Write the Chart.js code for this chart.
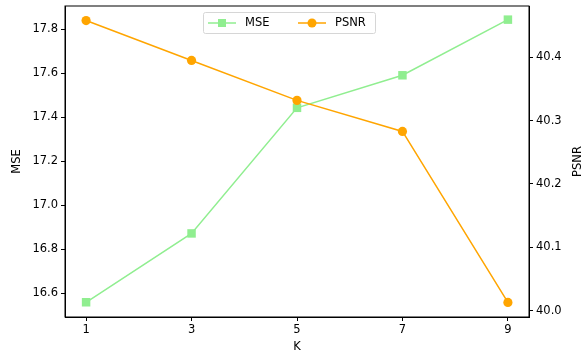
<!DOCTYPE html>
<html lang="en">
<head>
    <meta charset="UTF-8">
    <style>
        html, body { margin: 0; padding: 0; background: #fff; overflow: hidden; }
    </style>
    <title>MSE / PSNR vs K</title>
</head>
<body>
    <canvas id="myChart" width="584" height="351"></canvas>
    <script src="https://cdn.jsdelivr.net/npm/chart.js"></script>
    <script>
        const kValues = [1, 3, 5, 7, 9];
        const mseValues = [16.558, 16.871, 17.442, 17.590, 17.843];
        const psnrValues = [40.458, 40.395, 40.332, 40.283, 40.013];
        const xTicks = [1, 3, 5, 7, 9];
        const mseTicks = [16.6, 16.8, 17.0, 17.2, 17.4, 17.6, 17.8];
        const psnrTicks = [40.0, 40.1, 40.2, 40.3, 40.4];

        const FONT = 'DejaVu Sans';
        const SIZE = 11.5;

        // frame round the plot, legend box and the PSNR title (matplotlib reads it bottom-up)
        const framePlugin = {
            id: 'frame',
            afterDraw(chart) {
                const { ctx, chartArea: a } = chart;
                ctx.save();
                ctx.strokeStyle = '#000';
                ctx.lineWidth = 1;
                ctx.strokeRect(a.left, a.top, a.right - a.left, a.bottom - a.top);

                // legend
                const x0 = 203.5, y0 = 12.5, w = 172, h = 21;
                ctx.fillStyle = 'rgba(255,255,255,0.8)';
                ctx.strokeStyle = '#d6d6d6';
                ctx.beginPath();
                ctx.roundRect(x0, y0, w, h, 2);
                ctx.fill();
                ctx.stroke();

                const cy = y0 + h / 2;
                ctx.lineWidth = 1.5;
                ctx.strokeStyle = 'lightgreen';
                ctx.beginPath(); ctx.moveTo(208, cy); ctx.lineTo(236, cy); ctx.stroke();
                ctx.fillStyle = 'lightgreen';
                ctx.fillRect(222 - 4, cy - 4, 8, 8);

                ctx.strokeStyle = 'orange';
                ctx.beginPath(); ctx.moveTo(298, cy); ctx.lineTo(326, cy); ctx.stroke();
                ctx.fillStyle = 'orange';
                ctx.beginPath(); ctx.arc(312, cy, 4.5, 0, Math.PI * 2); ctx.fill();

                ctx.fillStyle = '#000';
                ctx.font = SIZE + 'px "' + FONT + '"';
                ctx.textBaseline = 'middle';
                ctx.fillText('MSE', 245, cy + 0.5);
                ctx.fillText('PSNR', 335, cy + 0.5);

                // right axis title
                ctx.translate(578, (a.top + a.bottom) / 2);
                ctx.rotate(-Math.PI / 2);
                ctx.textAlign = 'center';
                ctx.fillText('PSNR', 0, 0);
                ctx.restore();
            }
        };

        // no extra room for half tick labels, the plot box is fixed
        const noPad = (s) => { s.paddingTop = 0; s.paddingBottom = 0; };

        const ctx = document.getElementById('myChart');

        new Chart(ctx, {
            type: 'line',
            data: {
                datasets: [
                    {
                        label: 'MSE',
                        data: kValues.map((k, i) => ({ x: k, y: mseValues[i] })),
                        borderColor: 'lightgreen',
                        backgroundColor: 'lightgreen',
                        borderWidth: 1.5,
                        pointStyle: 'rect',
                        pointRadius: 6,
                        pointBorderWidth: 0,
                        yAxisID: 'y',
                        order: 2
                    },
                    {
                        label: 'PSNR',
                        data: kValues.map((k, i) => ({ x: k, y: psnrValues[i] })),
                        borderColor: 'orange',
                        backgroundColor: 'orange',
                        borderWidth: 1.5,
                        pointStyle: 'circle',
                        pointRadius: 4.6,
                        pointBorderWidth: 0,
                        yAxisID: 'y1',
                        order: 1
                    }
                ]
            },
            options: {
                responsive: false,
                animation: false,
                layout: { padding: { top: 6, left: 0, right: 0, bottom: 0 } },
                plugins: {
                    legend: { display: false },
                    tooltip: { enabled: false }
                },
                scales: {
                    x: {
                        type: 'linear',
                        min: 0.6,
                        max: 9.4,
                        afterBuildTicks: (s) => { s.ticks = xTicks.map(v => ({ value: v })); },
                        afterFit: (s) => { s.height = 34; s.paddingLeft = 0; s.paddingRight = 0; },
                        grid: { drawOnChartArea: false, drawTicks: true, tickLength: 4, color: '#000' },
                        border: { display: true, color: '#000' },
                        ticks: { color: '#000', padding: 2, font: { family: FONT, size: SIZE } },
                        title: { display: true, text: 'K', color: '#000', padding: { top: 0, bottom: -3 }, font: { family: FONT, size: SIZE } }
                    },
                    y: {
                        position: 'left',
                        min: 16.491,
                        max: 17.905,
                        afterBuildTicks: (s) => { s.ticks = mseTicks.map(v => ({ value: v })); },
                        afterFit: (s) => { s.width = 65; noPad(s); },
                        grid: { drawOnChartArea: false, drawTicks: true, tickLength: 4, color: '#000' },
                        border: { display: true, color: '#000' },
                        ticks: { color: '#000', padding: 3, font: { family: FONT, size: SIZE }, callback: (v) => v.toFixed(1) },
                        title: { display: true, text: 'MSE', color: '#000', padding: { top: 10, bottom: 0 }, font: { family: FONT, size: SIZE } }
                    },
                    y1: {
                        position: 'right',
                        min: 39.990,
                        max: 40.481,
                        afterBuildTicks: (s) => { s.ticks = psnrTicks.map(v => ({ value: v })); },
                        afterFit: (s) => { s.width = 55; noPad(s); },
                        grid: { drawOnChartArea: false, drawTicks: true, tickLength: 4, color: '#000' },
                        border: { display: true, color: '#000' },
                        ticks: { color: '#000', padding: 3, font: { family: FONT, size: SIZE }, callback: (v) => v.toFixed(1) },
                        title: { display: false }
                    }
                }
            },
            plugins: [framePlugin]
        });
    </script>
</body>
</html>
